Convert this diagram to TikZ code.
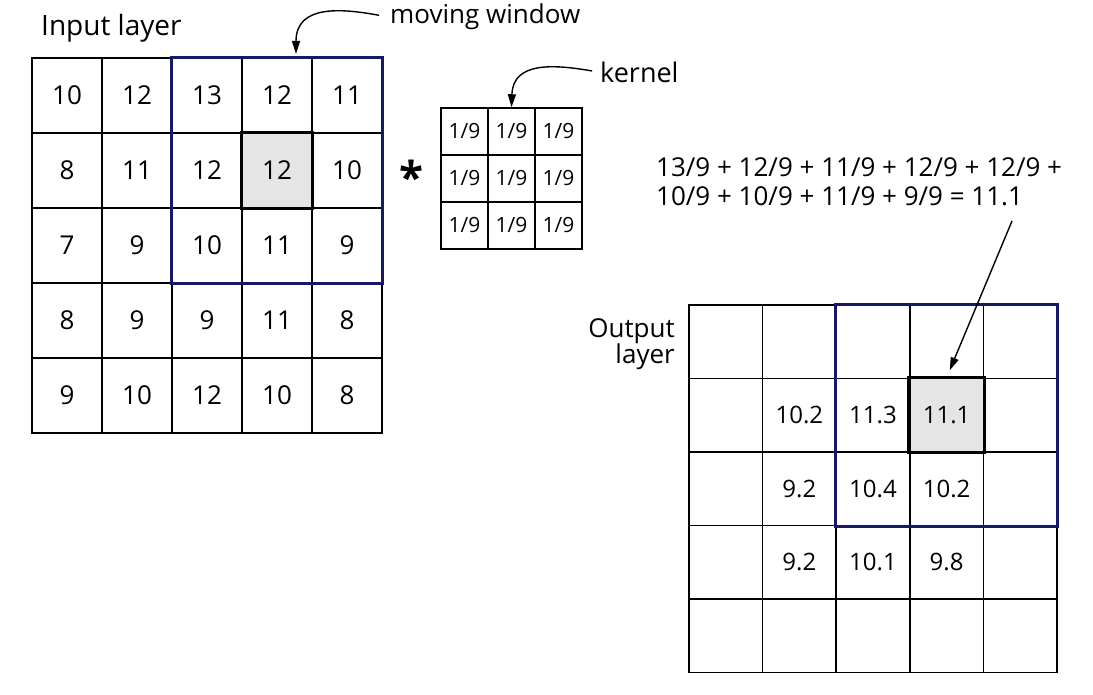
\documentclass[tikz,border=0pt]{standalone}
\usepackage{fontspec}
\setmainfont{Open Sans}
\usetikzlibrary{arrows.meta, positioning, backgrounds}

\definecolor{winblue}{RGB}{22,24,104}

\begin{document}
\begin{tikzpicture}[x=1pt,y=-1pt,
    pointer/.style={draw=black,line width=1.4pt,-{Triangle[length=13pt,width=8pt]}},
    lbl/.style={inner sep=2pt,font=\fontsize{26}{28}\selectfont}]
  \useasboundingbox (0,0) rectangle (1093,695);
  % input layer
  \begin{scope}[every node/.style={draw,line width=1.5pt,minimum width=70pt,minimum height=75pt,inner sep=0pt,font=\fontsize{26}{28}\selectfont}]
    \foreach \row [count=\r] in {{10,12,13,12,11},{8,11,12,12,10},{7,9,10,11,9},{8,9,9,11,8},{9,10,12,10,8}}
      \foreach \val [count=\c] in \row
        \node (in-\r-\c) at ({32+70*(\c-0.5)},{58+75*(\r-0.5)}) {\val};
  \end{scope}
  \begin{scope}[on background layer]
    \fill[gray!20] (in-2-4.north west) rectangle (in-2-4.south east);
  \end{scope}
  \draw[line width=3.2pt] (in-2-4.north west) rectangle (in-2-4.south east);
  \draw[winblue,line width=3pt] (in-1-3.north west) rectangle (in-3-5.south east);
  % kernel
  \begin{scope}[every node/.style={draw,line width=1.5pt,minimum size=47pt,inner sep=0pt,font=\fontsize{21}{23}\selectfont}]
    \foreach \r in {1,2,3}
      \foreach \c in {1,2,3}
        \node (k-\r-\c) at ({441+47*(\c-0.5)},{108+47*(\r-0.5)}) {1/9};
  \end{scope}
  \node[font=\fontsize{44}{44}\bfseries] (star) at (411,177) {*};
  % output layer
  \begin{scope}[every node/.style={draw,line width=1.5pt,minimum width=73.6pt,minimum height=73.5pt,inner sep=0pt,font=\fontsize{24}{26}\selectfont}]
    \foreach \row [count=\r] in {{{},{},{},{},{}},{{},10.2,11.3,11.1,{}},{{},9.2,10.4,10.2,{}},{{},9.2,10.1,9.8,{}},{{},{},{},{},{}}}
      \foreach \val [count=\c] in \row
        \node (out-\r-\c) at ({689+73.6*(\c-0.5)},{305+73.5*(\r-0.5)}) {\val};
  \end{scope}
  \begin{scope}[on background layer]
    \fill[gray!20] (out-2-4.north west) rectangle (out-2-4.south east);
  \end{scope}
  \draw[line width=3.2pt] (out-2-4.north west) rectangle (out-2-4.south east);
  \draw[winblue,line width=3pt] (out-1-3.north west) rectangle (out-3-5.south east);
  % labels
  \node[lbl,anchor=west,font=\fontsize{28}{30}\selectfont] (inlbl) at (39,28) {Input layer};
  \node[lbl,anchor=west] (mw) at (388,17) {moving window};
  \node[lbl,anchor=west,font=\fontsize{27}{29}\selectfont] (kl) at (598,72) {kernel};
  \node[lbl,anchor=east,align=right,font=\fontsize{26}{26}\selectfont] (outlbl) at (677,344) {Output\\layer};
  \node[lbl,anchor=west,align=left,font=\fontsize{26}{29}\selectfont] (sum) at (654,182)
    {13/9 + 12/9 + 11/9 + 12/9 + 12/9 +\\10/9 + 10/9 + 11/9 + 9/9 = 11.1};
  % arrows
  \coordinate (mw-tip) at (296,54);
  \coordinate (sum-end) at (1012,221);
  \draw[pointer,shorten <=9pt] (mw.west) .. controls (340,8) and (296,5) .. (mw-tip);
  \draw[pointer,shorten <=6pt] (kl.west) .. controls (552,64) and (513,62) .. (k-1-2.north);
  \draw[pointer,shorten >=8pt] (sum-end) -- (out-2-4.north);
\end{tikzpicture}
\end{document}
